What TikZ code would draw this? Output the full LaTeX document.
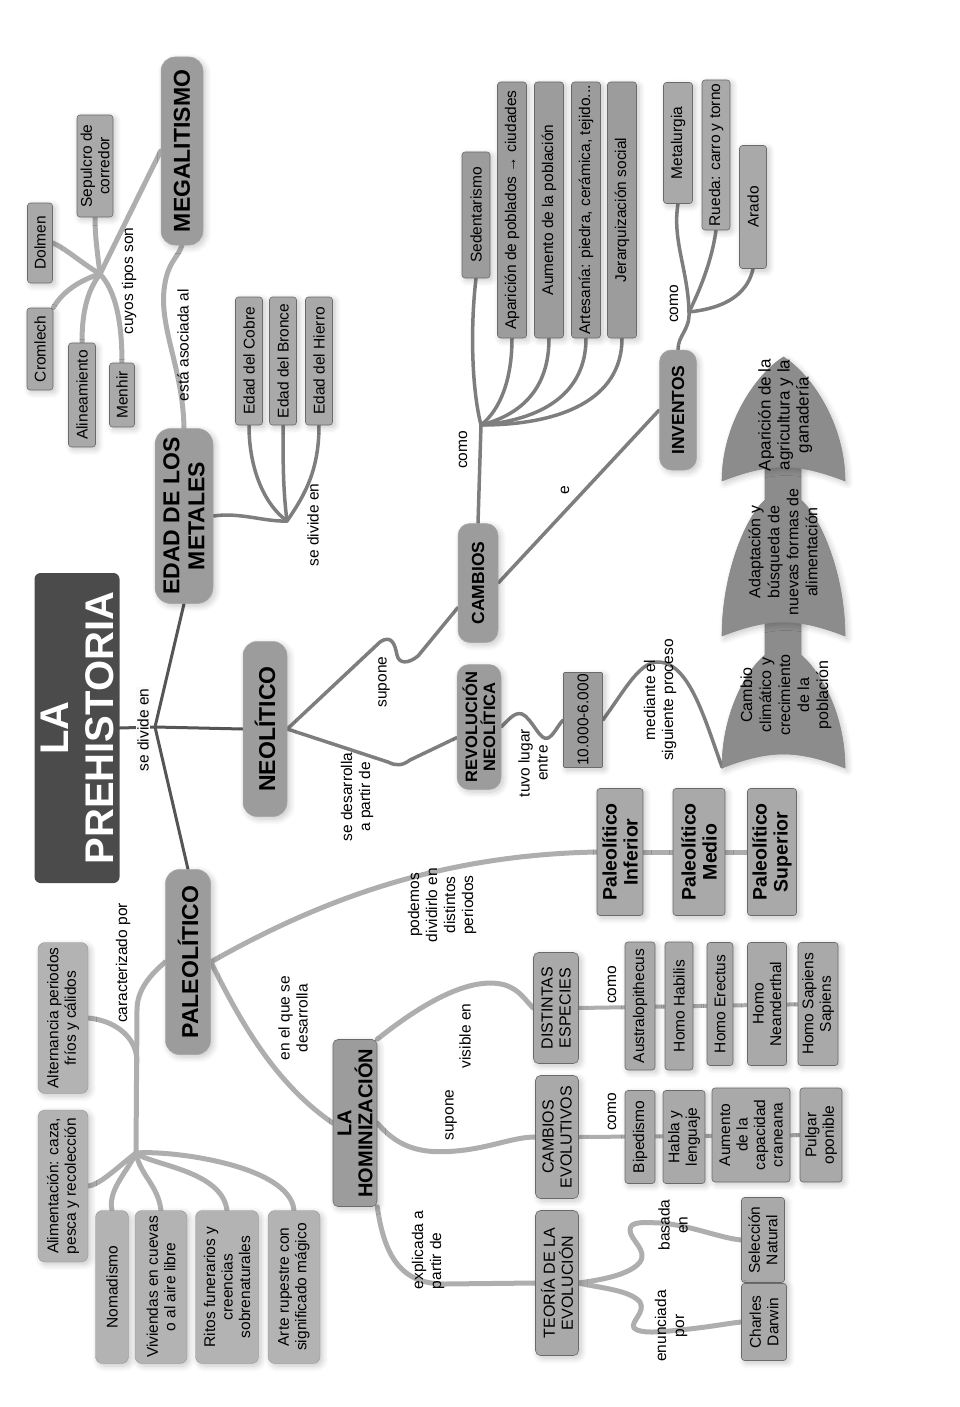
\documentclass[tikz,border=0pt]{standalone}
\usepackage{fontspec}
\setmainfont{Liberation Sans}
\usetikzlibrary{shadows.blur}
\pgfdeclarelayer{pagebg}
\pgfdeclarelayer{background}
\pgfsetlayers{pagebg,background,main}
\definecolor{cPage}{HTML}{FAFAFA}
\definecolor{cBorder}{HTML}{ECECEC}
\definecolor{cTitle}{HTML}{4B4B4B}
\definecolor{cPill}{HTML}{9C9C9C}
\definecolor{cBox}{HTML}{A9A9A9}
\definecolor{cBoxD}{HTML}{9C9C9C}
\definecolor{cBoxL}{HTML}{B3B3B3}
\definecolor{cEdge}{HTML}{6A6A6A}
\definecolor{cShape}{HTML}{8C8C8C}
\definecolor{lDark}{HTML}{555555}
\definecolor{lMid}{HTML}{7E7E7E}
\definecolor{lLight}{HTML}{AEAEAE}
\newcommand\szTitle{\fontsize{40}{45}\selectfont}
\newcommand\szMain{\fontsize{23}{25}\selectfont}
\newcommand\szSub{\fontsize{17.5}{19}\selectfont}
\newcommand\szBox{\fontsize{15.5}{17.5}\selectfont}
\newcommand\szLbl{\fontsize{15.5}{18}\selectfont}
\tikzset{
  rot/.style={rotate=90},
  sh/.style={blur shadow={shadow xshift=2.5pt, shadow yshift=-2.5pt, shadow blur radius=6pt, shadow blur steps=8, shadow opacity=22}},
  titlebox/.style={rot, fill=cTitle, rounded corners=6pt, text=white, font=\bfseries\szTitle, align=center, inner sep=2pt},
  pill/.style={rot, sh, fill=cPill, draw=cEdge!60, line width=0.5pt, rounded corners=14pt, align=center, font=\bfseries\szMain, inner sep=2pt},
  pillS/.style={pill, rounded corners=12pt, font=\bfseries\szSub},
  box/.style={rot, sh, fill=cBox, draw=cEdge, line width=0.6pt, rounded corners=3pt, align=center, font=\szBox, inner sep=1pt},
  boxD/.style={box, fill=cBoxD},
  boxL/.style={box, fill=cBoxL, draw=cBoxL!80!black, line width=0.3pt, rounded corners=7pt},
  box2/.style={box, rounded corners=5pt, font=\fontsize{16}{18}\selectfont},
  pbox/.style={box, font=\bfseries\fontsize{19.5}{21}\selectfont},
  hbox/.style={box, fill=cPill, rounded corners=5pt, font=\bfseries\fontsize{20}{21}\selectfont},
  lbl/.style={rot, align=center, font=\szLbl, inner sep=0pt},
  stxt/.style={rot, align=center, font=\fontsize{16}{19}\selectfont, inner sep=0pt},
  shp/.style={fill=cShape, draw=cEdge!80, line width=0.6pt, sh},
  halo/.style={fill=black, rounded corners=9pt},
  lnD/.style={draw=lDark, line width=3pt, line cap=round, line join=round},
  lnM/.style={draw=lMid, line width=3.5pt, line cap=round, line join=round},
  lnL/.style={draw=lLight, line width=5pt, line cap=round, line join=round},
}
\begin{document}
\begin{tikzpicture}[x=1pt,y=-1pt]
\useasboundingbox (0,0) rectangle (960,1407);
\begin{pgfonlayer}{pagebg}
\fill[cBorder] (0,0) rectangle (960,1407);
\fill[cPage] (4,3) rectangle (937,1398);
% soft halo behind the title
\fill[halo, opacity=0.04] (24,562) rectangle (134,897);
\fill[halo, opacity=0.05] (28,566) rectangle (130,893);
\fill[halo, opacity=0.06] (31,569) rectangle (127,890);
\fill[halo, opacity=0.08] (34,572) rectangle (124,887);
\end{pgfonlayer}

% first shadow use (hidden under the title)
\path[sh, fill=cTitle] (75,726) rectangle (79,730);

% ---------- main nodes
\node[titlebox, minimum width=310pt, minimum height=85pt] (title) at (77,728) {LA\\PREHISTORIA};
\node[pill, minimum width=185pt, minimum height=45pt] (paleo) at (188,962) {PALEOLÍTICO};
\node[pill, minimum width=175pt, minimum height=44pt] (neo) at (265,729) {NEOLÍTICO};
\node[pill, minimum width=175pt, minimum height=58pt, rounded corners=16pt] (metales) at (184,516) {EDAD DE LOS\\METALES};
\node[pill, minimum width=188pt, minimum height=42pt] (mega) at (182,151) {MEGALITISMO};

% ---------- megalitismo
\node[box, minimum width=82pt, minimum height=26pt] (cromlech) at (40,349) {Cromlech};
\node[box, minimum width=80pt, minimum height=25pt] (dolmen) at (40,243) {Dolmen};
\node[box, minimum width=102pt, minimum height=36pt] (sepulcro) at (95,166) {Sepulcro de\\corredor};
\node[box, minimum width=104pt, minimum height=27pt] (alinea) at (82,395) {Alineamiento};
\node[box, minimum width=64pt, minimum height=25pt] (menhir) at (122,395) {Menhir};

% ---------- metales
\node[box, minimum width=128pt, minimum height=27pt] (cobre) at (249,361) {Edad del Cobre};
\node[box, minimum width=128pt, minimum height=27pt] (bronce) at (283,361) {Edad del Bronce};
\node[box, minimum width=128pt, minimum height=27pt] (hierro) at (319,361) {Edad del Hierro};

% ---------- neolitico
\node[pillS, minimum width=119pt, minimum height=40pt] (cambios) at (478,583) {CAMBIOS};
\node[pillS, minimum width=125pt, minimum height=44pt, font=\bfseries\fontsize{16.5}{18}\selectfont] (revol) at (479,727) {REVOLUCIÓN\\NEOLÍTICA};
\node[boxD, minimum width=95pt, minimum height=39pt, rounded corners=1pt] (fecha) at (583,720) {10.000-6.000};
\node[boxD, minimum width=126pt, minimum height=28pt] (sedent) at (476,215) {Sedentarismo};
\node[boxD, minimum width=256pt, minimum height=29pt] (apar) at (512,210) {Aparición de poblados → ciudades};
\node[boxD, minimum width=256pt, minimum height=29pt] (aument) at (549,210) {Aumento de la población};
\node[boxD, minimum width=256pt, minimum height=29pt] (artes) at (586,210) {Artesanía: piedra, cerámica, tejido...};
\node[boxD, minimum width=256pt, minimum height=29pt] (jerarq) at (622,210) {Jerarquización social};
\node[pillS, minimum width=120pt, minimum height=37pt] (inventos) at (678,410) {INVENTOS};
\node[box, minimum width=121pt, minimum height=29pt] (metal) at (678,143) {Metalurgia};
\node[box, minimum width=150pt, minimum height=28pt] (rueda) at (716,155) {Rueda: carro y torno};
\node[box, minimum width=123pt, minimum height=27pt] (arado) at (753,207) {Arado};

% ---------- process shapes
\path[shp] (722,768) .. controls (722,715) and (745,672) .. (765,655) -- (765,600) -- (801,600) -- (801,655) .. controls (821,672) and (845,715) .. (845,768) .. controls (820,758) and (800,754) .. (783.5,754) .. controls (767,754) and (747,758) .. (722,768) -- cycle;
\path[shp] (722,636) .. controls (722,575) and (745,518) .. (765,500) -- (765,450) -- (801,450) -- (801,500) .. controls (821,518) and (845,575) .. (845,636) .. controls (820,626) and (800,622) .. (783.5,622) .. controls (767,622) and (747,626) .. (722,636) -- cycle;
\path[shp] (722,481) .. controls (722,425) and (755,375) .. (783.5,357) .. controls (812,375) and (845,425) .. (845,481) .. controls (820,471) and (800,467) .. (783.5,467) .. controls (767,467) and (747,471) .. (722,481) -- cycle;
\coordinate (s1) at (722,767);
\node[stxt] (t1) at (786,695) {Cambio\\climático y\\crecimiento\\de la\\población};
\node[stxt] (t2) at (783,552) {Adaptación y\\búsqueda de\\nuevas formas de\\alimentación};
\node[stxt, font=\fontsize{17}{19}\selectfont] (t3) at (785,415) {Aparición de la\\agricultura y la\\ganadería};

% ---------- paleolitico
\node[pbox, minimum width=127pt, minimum height=46pt] (inferior) at (620,852) {Paleolítico\\Inferior};
\node[pbox, minimum width=127pt, minimum height=52pt] (medio) at (699,852) {Paleolítico\\Medio};
\node[pbox, minimum width=127pt, minimum height=49pt] (superior) at (772,852) {Paleolítico\\Superior};
\node[boxL, minimum width=151pt, minimum height=50pt] (altern) at (63,1018) {Alternancia periodos\\fríos y cálidos};
\node[boxL, minimum width=152pt, minimum height=50pt] (aliment) at (63,1186) {Alimentación: caza,\\pesca y recolección};
\node[boxL, minimum width=153pt, minimum height=33pt] (nomad) at (112,1287) {Nomadismo};
\node[boxL, minimum width=153pt, minimum height=52pt] (vivien) at (161,1287) {Viviendas en cuevas\\o al aire libre};
\node[boxL, minimum width=153pt, minimum height=63pt] (ritos) at (227,1287) {Ritos funerarios y\\creencias\\sobrenaturales};
\node[boxL, minimum width=153pt, minimum height=52pt] (arte) at (294,1287) {Arte rupestre con\\significado mágico};

% ---------- hominizacion
\node[hbox, minimum width=167pt, minimum height=44pt] (homin) at (355,1123) {LA\\HOMINIZACIÓN};
\node[box2, minimum width=123pt, minimum height=43pt] (cevol) at (557,1137) {CAMBIOS\\EVOLUTIVOS};
\node[box2, minimum width=111pt, minimum height=45pt] (despec) at (556,1008) {DISTINTAS\\ESPECIES};
\node[box2, minimum width=145pt, minimum height=43pt] (teoria) at (557,1283) {TEORÍA DE LA\\EVOLUCIÓN};
\node[box, minimum width=93pt, minimum height=30pt] (biped) at (640,1137) {Bipedismo};
\node[box, minimum width=93pt, minimum height=42pt] (habla) at (684,1137) {Habla y\\lenguaje};
\node[box, minimum width=94pt, minimum height=78pt] (aumcap) at (751,1135) {Aumento\\de la\\capacidad\\craneana};
\node[box, minimum width=94pt, minimum height=42pt] (pulgar) at (821,1135) {Pulgar\\oponible};
\node[box, minimum width=128pt, minimum height=30pt] (austra) at (640,1006) {Australopithecus};
\node[box, minimum width=128pt, minimum height=28pt] (habilis) at (679,1006) {Homo Habilis};
\node[box, minimum width=123pt, minimum height=26pt] (erectus) at (720,1004) {Homo Erectus};
\node[box, minimum width=123pt, minimum height=39pt] (neand) at (767,1004) {Homo\\Neanderthal};
\node[box, minimum width=123pt, minimum height=40pt] (sapiens) at (818,1004) {Homo Sapiens\\Sapiens};
\node[box, minimum width=85pt, minimum height=43pt] (seleccion) at (763,1240) {Selección\\Natural};
\node[box, minimum width=77pt, minimum height=45pt] (darwin) at (764,1322) {Charles\\Darwin};

% ---------- labels
\node[lbl, fill=cPage, inner sep=1.5pt] (l1) at (143,730) {se divide en};
\node[lbl] (l2) at (183,345) {está asociada al};
\node[lbl] (l3) at (129,281) {cuyos tipos son};
\node[lbl] (l4) at (313,525) {se divide en};
\node[lbl] (l5) at (463,450) {como};
\node[lbl] (l6) at (565,490) {e};
\node[lbl] (l7) at (674,304) {como};
\node[lbl] (l8) at (384,682) {supone};
\node[lbl] (l9) at (357,797) {se desarrolla\\a partir de};
\node[lbl] (l10) at (533,763) {tuvo lugar\\entre};
\node[lbl] (l11) at (660,700) {mediante el\\siguiente proceso};
\node[lbl] (l12) at (442,905) {podemos\\dividirlo en\\distintos\\periodos};
\node[lbl] (l13) at (123,963) {caracterizado por};
\node[lbl] (l14) at (293,1018) {en el que se\\desarrolla};
\node[lbl, align=left] (l15) at (428,1250) {explicada a\\partir de};
\node[lbl] (l16) at (451,1115) {supone};
\node[lbl] (l17) at (465,1036) {visible en};
\node[lbl] (l18) at (612,1112) {como};
\node[lbl] (l19) at (612,985) {como};
\node[lbl] (l20) at (673,1225) {basada\\en};
\node[lbl] (l21) at (671,1326) {enunciada\\por};

% ---------- connectors
\begin{pgfonlayer}{background}
\coordinate (hub1) at (155,727);
\draw[lnD] (title.south) -- (hub1);
\draw[lnD] (hub1) -- (metales.west);
\draw[lnD] (hub1) -- (neo.north);
\draw[lnD] (hub1) -- (paleo.east);
% megalitismo
\draw[lnL] (metales.east) .. controls (183,370) and (160,330) .. (164,290) .. controls (167,262) and (178,258) .. (mega.west);
\coordinate (hubM) at (100,274);
\draw[lnL] (mega.north) -- (hubM);
\draw[lnL] (hubM) .. controls (97,250) and (95,235) .. (sepulcro.west);
\draw[lnL] (hubM) .. controls (80,262) and (65,248) .. (dolmen.south);
\draw[lnL] (hubM) .. controls (80,280) and (62,292) .. (cromlech.south east);
\draw[lnL] (hubM) .. controls (88,290) and (82,310) .. (alinea.east);
\draw[lnL] (hubM) .. controls (115,290) and (122,320) .. (menhir.east);
% metales
\coordinate (hubE) at (287,521);
\draw[lnM] (metales.south) .. controls (240,512) and (265,522) .. (hubE);
\draw[lnM] (hubE) .. controls (265,505) and (249,470) .. (cobre.west);
\draw[lnM] (hubE) .. controls (283,490) and (283,460) .. (bronce.west);
\draw[lnM] (hubE) .. controls (305,495) and (319,470) .. (hierro.west);
% neolitico
\draw[lnM] (neo.south) -- (380,642) .. controls (392,634) and (395,645) .. (397,655) .. controls (399,664) and (408,664) .. (418,656) -- (cambios);
\draw[lnM] (neo.south) -- (388,762) .. controls (396,766) and (402,766) .. (410,760) -- (revol);
\coordinate (hubC) at (481,425);
\draw[lnM] (cambios.east) -- (hubC);
\draw[lnM] (hubC) .. controls (472,390) and (470,330) .. (sedent.west);
\draw[lnM] (hubC) .. controls (500,410) and (512,380) .. (apar.west);
\draw[lnM] (hubC) .. controls (520,415) and (549,390) .. (aument.west);
\draw[lnM] (hubC) .. controls (540,420) and (586,395) .. (artes.west);
\draw[lnM] (hubC) .. controls (560,425) and (622,400) .. (jerarq.west);
\draw[lnM] (cambios.south) -- (inventos.north);
\coordinate (hubI) at (689,312);
\draw[lnM] (inventos.east) .. controls (678,335) and (690,330) .. (hubI);
\draw[lnM] (hubI) .. controls (688,270) and (672,240) .. (metal.west);
\draw[lnM] (hubI) .. controls (700,290) and (712,260) .. (rueda.west);
\draw[lnM] (hubI) .. controls (705,310) and (745,305) .. (arado.west);
\draw[lnM] (revol.south) .. controls (510,718) and (515,712) .. (522,714) .. controls (532,718) and (540,742) .. (548,738) .. controls (554,735) and (558,725) .. (fecha.north);
\draw[lnM] (fecha.south) .. controls (625,690) and (640,660) .. (660,662) .. controls (690,665) and (705,720) .. (s1);
% paleolitico
\draw[lnL] (paleo.south) .. controls (320,900) and (440,855) .. (inferior.north);
\draw[lnL] (inferior) -- (medio);
\draw[lnL] (medio) -- (superior);
\coordinate (hubP) at (136,1153);
\coordinate (jP) at (137,1062);
\draw[lnL] (paleo.north) .. controls (150,975) and (137,990) .. (137,1010) -- (hubP);
\draw[lnL] (altern.south) .. controls (112,1020) and (137,1035) .. (jP);
\draw[lnL] (hubP) .. controls (120,1165) and (100,1185) .. (aliment.south);
\draw[lnL] (hubP) .. controls (125,1175) and (108,1190) .. (nomad.east);
\draw[lnL] (hubP) .. controls (140,1175) and (158,1185) .. (vivien.east);
\draw[lnL] (hubP) .. controls (150,1165) and (222,1170) .. (ritos.east);
\draw[lnL] (hubP) .. controls (170,1150) and (290,1165) .. (arte.east);
\draw[lnL] (paleo.south) .. controls (235,1010) and (270,1080) .. (homin.north);
% hominizacion
\draw[lnL] (homin.south east) .. controls (420,1005) and (470,975) .. (505,985) .. controls (520,990) and (525,1000) .. (despec.north);
\draw[lnL] (homin.south) .. controls (400,1150) and (425,1155) .. (465,1150) .. controls (495,1146) and (515,1137) .. (cevol.north);
\draw[lnL] (homin.south west) .. controls (385,1262) and (405,1284) .. (445,1284) -- (teoria.north);
\draw[lnL, line width=4pt] (cevol.south) -- (pulgar);
\draw[lnL, line width=4pt] (despec.south) -- (sapiens);
\draw[lnL] (teoria.south) .. controls (600,1280) and (630,1275) .. (640,1262) .. controls (648,1250) and (630,1240) .. (630,1230) .. controls (630,1222) and (640,1222) .. (660,1223) .. controls (690,1225) and (720,1238) .. (seleccion.north);
\draw[lnL] (teoria.south) .. controls (600,1288) and (630,1290) .. (640,1302) .. controls (646,1312) and (630,1322) .. (634,1328) .. controls (640,1334) and (660,1332) .. (680,1330) .. controls (710,1327) and (730,1323) .. (darwin.north);
\end{pgfonlayer}
\end{tikzpicture}
\end{document}
